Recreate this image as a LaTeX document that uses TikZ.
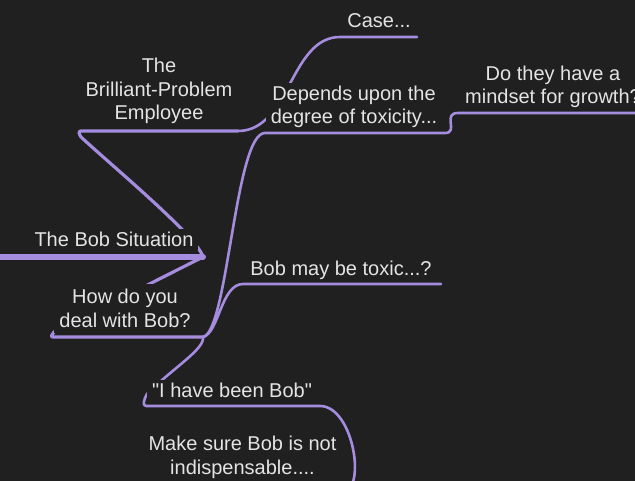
\documentclass[tikz,border=0pt]{standalone}
\usepackage{fontspec}
\setmainfont{Liberation Sans}[Ligatures=TeXOff]
\definecolor{bgc}{RGB}{32,32,32}
\definecolor{lilac}{RGB}{165,140,222}
\definecolor{ink}{RGB}{228,228,228}
\tikzset{
  lbl/.style={fill=bgc, text=ink, align=center, inner xsep=5pt, inner ysep=3pt,
    font=\fontsize{20}{23.6}\selectfont},
  limb/.style={draw=lilac, line width=3.2pt, line cap=round, line join=round},
  sprig/.style={draw=lilac, line width=2.6pt, line cap=round, line join=round}
}

\begin{document}
\begin{tikzpicture}[x=1pt,y=-1pt]
\useasboundingbox (0,0) rectangle (635,481);
\fill [bgc] (0,0) rectangle (635,481);
\clip (0,0) rectangle (635,481);

% underline ends
\coordinate (bob-l) at (0,257);      \coordinate (bob-r) at (203,257);
\coordinate (brill-l) at (78,131);   \coordinate (brill-r) at (238,131);
\coordinate (case-l) at (340,37);    \coordinate (case-r) at (417,37);
\coordinate (how-l) at (50,337);     \coordinate (how-r) at (203,337);
\coordinate (dep-l) at (265,133);    \coordinate (dep-r) at (445,133);
\coordinate (grow-l) at (458,113);   \coordinate (grow-r) at (635,113);
\coordinate (toxic-l) at (243,284);  \coordinate (toxic-r) at (441,284);
\coordinate (been-l) at (143,406);   \coordinate (been-r) at (320,406);
\coordinate (sure-r) at (340,494);

\draw [limb, line width=6pt] (bob-l) -- (bob-r);
\draw [limb] (bob-r) .. controls +(-5,-20) and +(30,28) .. ([shift={(3,6)}]brill-l)
      .. controls +(-2,-3) and +(-3,0) .. ([shift={(3,0)}]brill-l) -- (brill-r);
\draw [limb] (bob-r) .. controls +(-20,10) and +(40,-20) .. ([shift={(4,-5)}]how-l)
      .. controls +(-2,3) and +(-3,0) .. ([shift={(3,0)}]how-l) -- (how-r);
\draw [sprig] (brill-r) .. controls +(52,0) and +(-50,0) .. (case-l) -- (case-r);
\draw [sprig] (how-r) .. controls +(25,-5) and +(-30,0) .. (dep-l) -- (dep-r)
      .. controls +(14,0) and +(-16,0) .. (grow-l) -- (grow-r);
\draw [sprig] (how-r) .. controls +(16,-4) and +(-22,0) .. (toxic-l) -- (toxic-r);
\draw [sprig] (how-r) .. controls +(2,12) and +(26,-26) .. ([shift={(4,-12)}]been-l)
      .. controls +(-3,5) and +(-4,0) .. ([shift={(3,0)}]been-l) -- (been-r);
\draw [sprig] (been-r) .. controls +(34,0) and +(28,0) .. (sure-r);

\node [lbl] (bob) at (114,239.5) {The Bob Situation};
\node [lbl] (brill) at (159,91.2) {The\\Brilliant-Problem\\Employee};
\node [lbl] (case) at (379,21) {Case...};
\node [lbl, inner ysep=5pt] (how) at (125,308.6) {How do you\\deal with Bob?};
\node [lbl] (dep) at (354,106.7) {Depends upon the\\degree of toxicity...};
\node [lbl] (grow) at (553,86.7) {Do they have a\\mindset for growth?};
\node [lbl] (toxic) at (341,270) {Bob may be toxic...?};
\node [lbl] (been) at (232,390) {"I have been Bob"};
\node [lbl] (sure) at (242.5,457.4) {Make sure Bob is not\\indispensable....};
\end{tikzpicture}
\end{document}
